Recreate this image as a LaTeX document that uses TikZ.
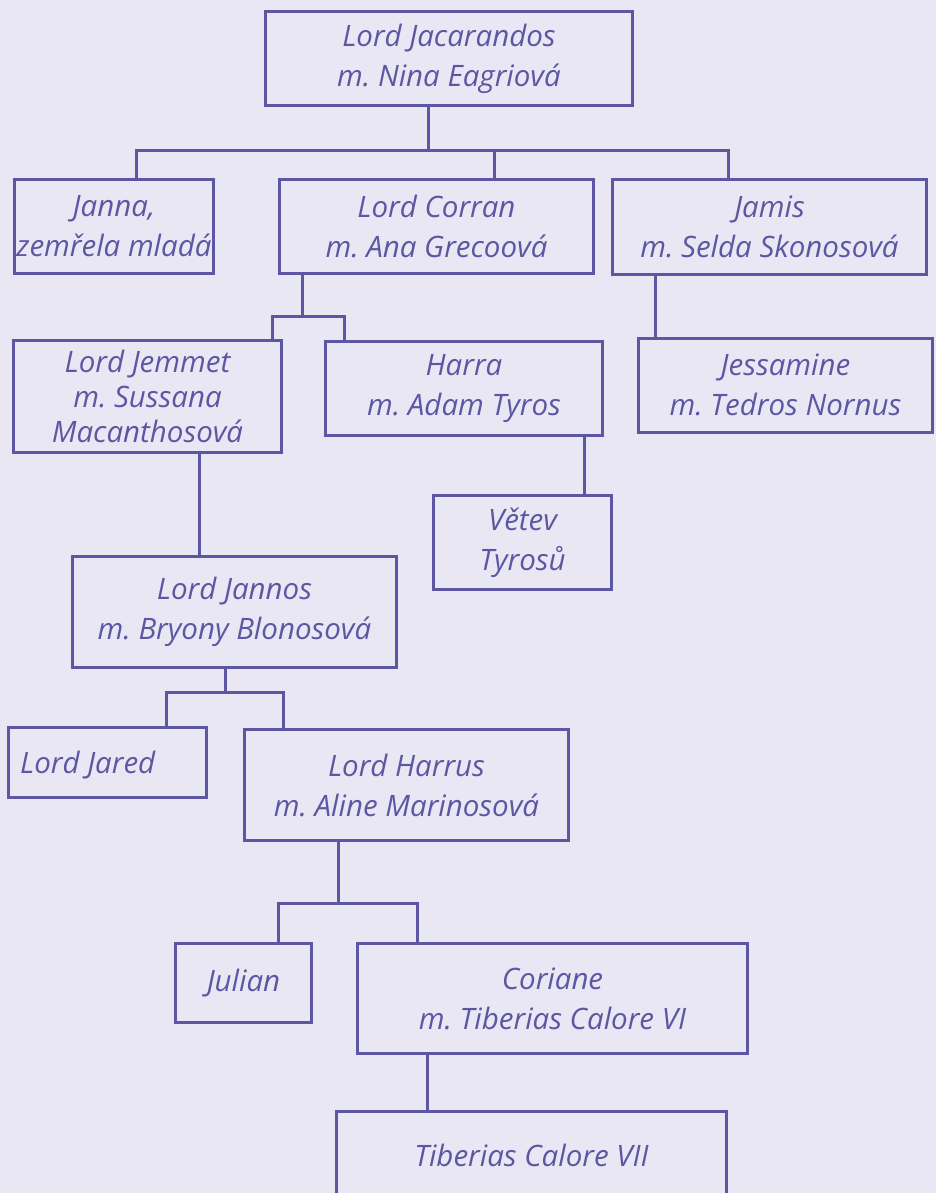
\documentclass[tikz,border=0pt]{standalone}
\usepackage{fontspec}
\setmainfont{Open Sans}
\definecolor{bg}{HTML}{E9E7F3}
\definecolor{ink}{HTML}{5D57A3}
\begin{document}
\frenchspacing
\begin{tikzpicture}[x=1pt,y=-1pt,
  box/.style={draw=ink, line width=3pt, rectangle, inner sep=0pt, align=center,
    text=ink, font=\fontsize{29.5}{40}\selectfont\itshape},
  lbl/.style={text=ink, inner sep=0pt, font=\fontsize{29.5}{40}\selectfont\itshape},
  link/.style={draw=ink, line width=3pt}]
\fill[bg] (0,0) rectangle (936,1193);
\useasboundingbox (0,0) rectangle (936,1193);

\node[box, minimum width=367, minimum height=94] (jac) at (449,58.5) {Lord Jacarandos\\m. Nina Eagriová};
\node[box, minimum width=199, minimum height=94] (janna) at (114,226.5) {Janna,\\zemřela mladá};
\node[box, minimum width=314, minimum height=94] (corran) at (436.5,226.5) {Lord Corran\\m. Ana Grecoová};
\node[box, minimum width=314, minimum height=94] (jamis) at (769.5,227) {Jamis\\m. Selda Skonosová};
\node[box, minimum width=268, minimum height=112, font=\fontsize{29.5}{35}\selectfont\itshape] (jemmet) at (147.5,396.5) {Lord Jemmet\\m. Sussana\\Macanthosová};
\node[box, minimum width=277, minimum height=94] (harra) at (464,388.5) {Harra\\m. Adam Tyros};
\node[box, minimum width=294, minimum height=94] (jess) at (785.5,385) {Jessamine\\m. Tedros Nornus};
\node[box, minimum width=178, minimum height=94] (vetev) at (522.5,542.5) {Větev\\Tyrosů};
\node[box, minimum width=324, minimum height=111] (jannos) at (234.5,612) {Lord Jannos\\m. Bryony Blonosová};
\node[box, minimum width=198, minimum height=70] (jared) at (107.5,762.5) {};
\node[lbl, anchor=west] (jaredt) at (20,765) {Lord Jared};
\node[box, minimum width=324, minimum height=111] (harrus) at (406.5,785) {Lord Harrus\\m. Aline Marinosová};
\node[box, minimum width=136, minimum height=79] (julian) at (243.5,983) {Julian};
\node[box, minimum width=390, minimum height=110] (cor) at (552.5,998.5) {Coriane\\m. Tiberias Calore VI};
\node[box, minimum width=390, minimum height=98] (tib) at (531.5,1160) {};
\node[lbl] (tibt) at (531.5,1155) {Tiberias Calore VII};

\coordinate (j1) at (428,151);
\draw[link] (jac.south -| j1) -- (j1);
\draw[link] (janna.north -| 136,0) -- (136,151) -- (728,151) -- (jamis.north -| 728,0);
\draw[link] (494,151) -- (corran.north -| 494,0);

\coordinate (c1) at (302,316);
\draw[link] (corran.south -| c1) -- (c1);
\draw[link] (jemmet.north -| 272,0) -- (272,316) -- (344,316) -- (harra.north -| 344,0);

\draw[link] (jamis.south -| 655,0) -- (jess.north -| 655,0);
\draw[link] (harra.south -| 584,0) -- (vetev.north -| 584,0);
\draw[link] (jemmet.south -| 199,0) -- (jannos.north -| 199,0);

\coordinate (n1) at (225,692);
\draw[link] (jannos.south -| n1) -- (n1);
\draw[link] (jared.north -| 166,0) -- (166,692) -- (283,692) -- (harrus.north -| 283,0);

\coordinate (h1) at (338,903);
\draw[link] (harrus.south -| h1) -- (h1);
\draw[link] (julian.north -| 278,0) -- (278,903) -- (417,903) -- (cor.north -| 417,0);

\draw[link] (cor.south -| 427,0) -- (tib.north -| 427,0);
\end{tikzpicture}
\end{document}
